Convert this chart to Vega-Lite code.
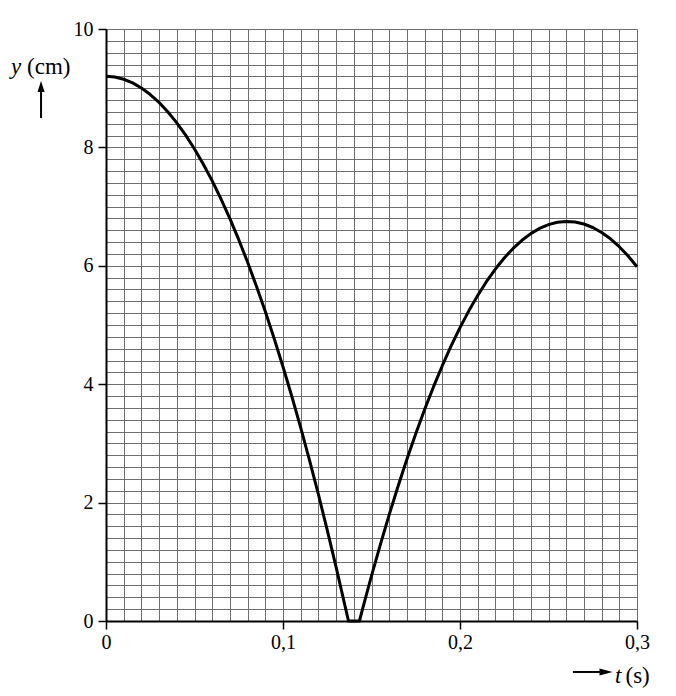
{
  "$schema": "https://vega.github.io/schema/vega-lite/v6.json",
  "width": 531,
  "height": 592,
  "autosize": {"type": "none"},
  "padding": {"left": 106, "top": 29, "right": 39, "bottom": 75},
  "background": "white",
  "config": {"view": {"stroke": null}, "font": "Liberation Serif"},
  "resolve": {"scale": {"x": "independent", "y": "independent"}, "axis": {"x": "independent", "y": "independent"}},
  "layer": [
    {
      "data": {"values": [
        {"t": 0, "y": 9.2}, {"t": 0.005, "y": 9.188}, {"t": 0.01, "y": 9.151}, {"t": 0.015, "y": 9.09},
        {"t": 0.02, "y": 9.004}, {"t": 0.025, "y": 8.893}, {"t": 0.03, "y": 8.759}, {"t": 0.035, "y": 8.599},
        {"t": 0.04, "y": 8.415}, {"t": 0.045, "y": 8.207}, {"t": 0.05, "y": 7.974}, {"t": 0.055, "y": 7.716},
        {"t": 0.06, "y": 7.434}, {"t": 0.065, "y": 7.128}, {"t": 0.07, "y": 6.797}, {"t": 0.075, "y": 6.441},
        {"t": 0.08, "y": 6.061}, {"t": 0.085, "y": 5.656}, {"t": 0.09, "y": 5.227}, {"t": 0.095, "y": 4.773},
        {"t": 0.1, "y": 4.295}, {"t": 0.105, "y": 3.792}, {"t": 0.11, "y": 3.265}, {"t": 0.115, "y": 2.713},
        {"t": 0.12, "y": 2.137}, {"t": 0.125, "y": 1.536}, {"t": 0.13, "y": 0.911}, {"t": 0.135, "y": 0.261},
        {"t": 0.137, "y": 0}, {"t": 0.1432, "y": 0}, {"t": 0.145, "y": 0.207}, {"t": 0.15, "y": 0.761},
        {"t": 0.155, "y": 1.291}, {"t": 0.16, "y": 1.796}, {"t": 0.165, "y": 2.277}, {"t": 0.17, "y": 2.733},
        {"t": 0.175, "y": 3.164}, {"t": 0.18, "y": 3.571}, {"t": 0.185, "y": 3.954}, {"t": 0.19, "y": 4.312},
        {"t": 0.195, "y": 4.646}, {"t": 0.2, "y": 4.955}, {"t": 0.205, "y": 5.239}, {"t": 0.21, "y": 5.499},
        {"t": 0.215, "y": 5.735}, {"t": 0.22, "y": 5.945}, {"t": 0.225, "y": 6.132}, {"t": 0.23, "y": 6.294},
        {"t": 0.235, "y": 6.431}, {"t": 0.24, "y": 6.544}, {"t": 0.245, "y": 6.632}, {"t": 0.25, "y": 6.696},
        {"t": 0.255, "y": 6.735}, {"t": 0.26, "y": 6.75}, {"t": 0.265, "y": 6.74}, {"t": 0.27, "y": 6.706},
        {"t": 0.275, "y": 6.647}, {"t": 0.28, "y": 6.563}, {"t": 0.285, "y": 6.456}, {"t": 0.29, "y": 6.323},
        {"t": 0.295, "y": 6.166}, {"t": 0.3, "y": 5.985}
      ]},
      "mark": {"type": "line", "color": "black", "strokeWidth": 3, "strokeJoin": "round", "clip": false},
      "encoding": {
        "x": {
          "field": "t", "type": "quantitative",
          "scale": {"domain": [0, 0.3], "nice": false, "zero": false},
          "axis": {
            "title": null,
            "values": [0,0.01,0.02,0.03,0.04,0.05,0.06,0.07,0.08,0.09,0.1,0.11,0.12,0.13,0.14,0.15,0.16,0.17,0.18,0.19,0.2,0.21,0.22,0.23,0.24,0.25,0.26,0.27,0.28,0.29,0.3],
            "labelExpr": "datum.value == 0 ? '0' : (abs(datum.value*10 - round(datum.value*10)) < 1e-6 ? replace(format(datum.value, '.1f'), '.', ',') : '')",
            "labelFont": "Liberation Serif", "labelFontSize": 20, "labelColor": "black",
            "labelPadding": 3, "labelFlush": false, "labelOverlap": false, "labelBound": false,
            "tickSize": 8, "tickColor": "black", "tickWidth": 1.5,
            "tickOpacity": {"condition": {"test": "abs(datum.value*10 - round(datum.value*10)) < 1e-6", "value": 1}, "value": 0},
            "domainColor": "black", "domainWidth": 2,
            "grid": true, "gridColor": "#6e6e6e", "gridWidth": 1, "gridOpacity": 1
          }
        },
        "y": {
          "field": "y", "type": "quantitative",
          "scale": {"domain": [0, 10], "nice": false, "zero": false},
          "axis": {
            "title": null,
            "values": [0,0.2,0.4,0.6,0.8,1,1.2,1.4,1.6,1.8,2,2.2,2.4,2.6,2.8,3,3.2,3.4,3.6,3.8,4,4.2,4.4,4.6,4.8,5,5.2,5.4,5.6,5.8,6,6.2,6.4,6.6,6.8,7,7.2,7.4,7.6,7.8,8,8.2,8.4,8.6,8.8,9,9.2,9.4,9.6,9.8,10],
            "labelExpr": "abs(datum.value/2 - round(datum.value/2)) < 1e-6 ? format(datum.value, 'd') : ''",
            "labelFont": "Liberation Serif", "labelFontSize": 20, "labelColor": "black",
            "labelPadding": 5, "labelFlush": false, "labelOverlap": false, "labelBound": false,
            "tickSize": 8, "tickColor": "black", "tickWidth": 1.5,
            "tickOpacity": {"condition": {"test": "abs(datum.value/2 - round(datum.value/2)) < 1e-6", "value": 1}, "value": 0},
            "domainColor": "black", "domainWidth": 2,
            "grid": true, "gridColor": "#6e6e6e", "gridWidth": 1, "gridOpacity": 1
          }
        }
      }
    },
    {
      "data": {"values": [{}]},
      "mark": {"type": "text", "text": "y", "font": "Liberation Serif", "fontStyle": "italic", "fontSize": 23, "align": "left", "baseline": "alphabetic", "color": "black"},
      "encoding": {"x": {"datum": -0.0537, "type": "quantitative", "scale": {"domain": [0, 0.3], "nice": false, "zero": false}, "axis": null}, "y": {"datum": 9.24, "type": "quantitative", "scale": {"domain": [0, 10], "nice": false, "zero": false}, "axis": null}}
    },
    {
      "data": {"values": [{}]},
      "mark": {"type": "text", "text": "(cm)", "font": "Liberation Serif", "fontSize": 23, "align": "left", "baseline": "alphabetic", "color": "black"},
      "encoding": {"x": {"datum": -0.0446, "type": "quantitative", "scale": {"domain": [0, 0.3], "nice": false, "zero": false}, "axis": null}, "y": {"datum": 9.24, "type": "quantitative", "scale": {"domain": [0, 10], "nice": false, "zero": false}, "axis": null}}
    },
    {
      "data": {"values": [{}]},
      "mark": {"type": "rule", "color": "black", "strokeWidth": 2},
      "encoding": {"x": {"datum": -0.0367, "type": "quantitative", "scale": {"domain": [0, 0.3], "nice": false, "zero": false}, "axis": null}, "y": {"datum": 8.94, "type": "quantitative", "scale": {"domain": [0, 10], "nice": false, "zero": false}, "axis": null}, "y2": {"datum": 8.497}}
    },
    {
      "data": {"values": [{}]},
      "mark": {"type": "point", "shape": "M0,-1L0.65,1L-0.65,1Z", "size": 120, "filled": true, "color": "black", "opacity": 1},
      "encoding": {"x": {"datum": -0.0367, "type": "quantitative", "scale": {"domain": [0, 0.3], "nice": false, "zero": false}, "axis": null}, "y": {"datum": 9.03, "type": "quantitative", "scale": {"domain": [0, 10], "nice": false, "zero": false}, "axis": null}}
    },
    {
      "data": {"values": [{}]},
      "mark": {"type": "rule", "color": "black", "strokeWidth": 2},
      "encoding": {"x": {"datum": 0.2638, "type": "quantitative", "scale": {"domain": [0, 0.3], "nice": false, "zero": false}, "axis": null}, "x2": {"datum": 0.2802}, "y": {"datum": -0.861, "type": "quantitative", "scale": {"domain": [0, 10], "nice": false, "zero": false}, "axis": null}}
    },
    {
      "data": {"values": [{}]},
      "mark": {"type": "point", "shape": "M1,0L-1,-0.55L-1,0.55Z", "size": 169, "filled": true, "color": "black", "opacity": 1},
      "encoding": {"x": {"datum": 0.2825, "type": "quantitative", "scale": {"domain": [0, 0.3], "nice": false, "zero": false}, "axis": null}, "y": {"datum": -0.861, "type": "quantitative", "scale": {"domain": [0, 10], "nice": false, "zero": false}, "axis": null}}
    },
    {
      "data": {"values": [{}]},
      "mark": {"type": "text", "text": "t", "font": "Liberation Serif", "fontStyle": "italic", "fontSize": 23, "align": "left", "baseline": "alphabetic", "color": "black"},
      "encoding": {"x": {"datum": 0.2876, "type": "quantitative", "scale": {"domain": [0, 0.3], "nice": false, "zero": false}, "axis": null}, "y": {"datum": -1.047, "type": "quantitative", "scale": {"domain": [0, 10], "nice": false, "zero": false}, "axis": null}}
    },
    {
      "data": {"values": [{}]},
      "mark": {"type": "text", "text": "(s)", "font": "Liberation Serif", "fontSize": 23, "align": "left", "baseline": "alphabetic", "color": "black"},
      "encoding": {"x": {"datum": 0.2935, "type": "quantitative", "scale": {"domain": [0, 0.3], "nice": false, "zero": false}, "axis": null}, "y": {"datum": -1.047, "type": "quantitative", "scale": {"domain": [0, 10], "nice": false, "zero": false}, "axis": null}}
    }
  ]
}
